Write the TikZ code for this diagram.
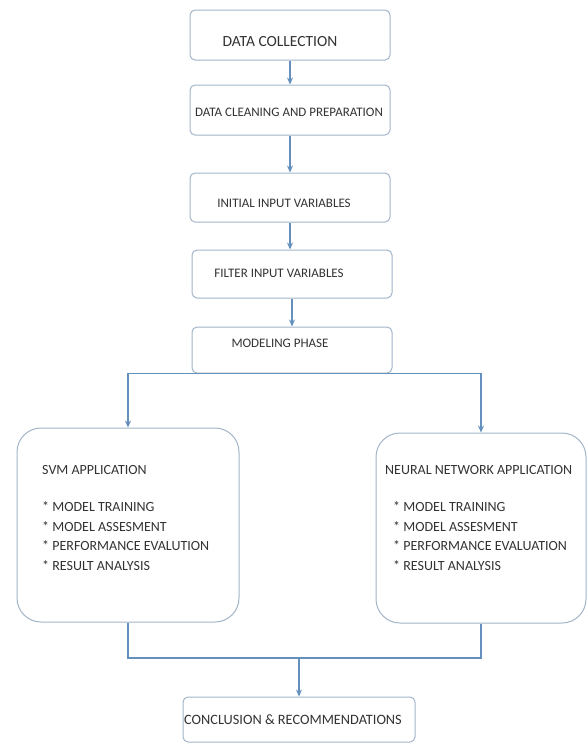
\documentclass[tikz,border=0pt]{standalone}
\usepackage{fontspec}
\setmainfont{Carlito}
\usetikzlibrary{arrows.meta}

\definecolor{boxline}{HTML}{A3B5C9}
\definecolor{flowline}{HTML}{6490BE}
\definecolor{txtgray}{HTML}{333333}

\tikzset{
  stepbox/.style={draw=boxline, line width=1pt, rounded corners=5pt, fill=white},
  appbox/.style={draw=boxline, line width=1pt, rounded corners=24pt, fill=white},
  lbl/.style={text=txtgray, font=\fontsize{14}{16}\selectfont, inner sep=0pt},
  link/.style={draw=flowline, line width=1.6pt},
  flow/.style={link, -{Stealth[length=7pt,width=6pt]}}
}

\begin{document}
\begin{tikzpicture}[x=1pt,y=-1pt]
        \useasboundingbox (0,0) rectangle (587,745);

        % process boxes
        \node[stepbox, minimum width=200pt, minimum height=50pt] (collect) at (290,35) {};
        \node[stepbox, minimum width=200pt, minimum height=50pt] (clean) at (290,110) {};
        \node[stepbox, minimum width=200pt, minimum height=49pt] (initial) at (290,197.5) {};
        \node[stepbox, minimum width=200pt, minimum height=48pt] (filter) at (292,274) {};
        \node[stepbox, minimum width=200pt, minimum height=46pt] (model) at (292,350) {};
        \node[appbox, minimum width=222pt, minimum height=194pt] (svm) at (128,525) {};
        \node[appbox, minimum width=210pt, minimum height=190pt] (nn) at (481,528) {};
        \node[stepbox, minimum width=232pt, minimum height=45pt] (concl) at (299,719.5) {};

        % box texts
        \node[lbl, font=\fontsize{15.5}{18}\selectfont] (collect-txt) at (280,42) {DATA COLLECTION};
        \node[lbl, font=\fontsize{13}{15}\selectfont] (clean-txt) at (289,112) {DATA CLEANING AND PREPARATION};
        \node[lbl, font=\fontsize{13}{15}\selectfont] (initial-txt) at (284,203) {INITIAL INPUT VARIABLES};
        \node[lbl, font=\fontsize{13}{15}\selectfont] (filter-txt) at (279,273) {FILTER INPUT VARIABLES};
        \node[lbl, font=\fontsize{13}{15}\selectfont] (model-txt) at (280,343) {MODELING PHASE};
        \node[lbl, font=\fontsize{14.3}{16}\selectfont] (concl-txt) at (293,720) {CONCLUSION \& RECOMMENDATIONS};

        \node[lbl, anchor=west] (svm-txt) at (42,470) {SVM APPLICATION};
        \foreach \task [count=\i] in {MODEL TRAINING, MODEL ASSESMENT, PERFORMANCE EVALUTION, RESULT ANALYSIS}
            \node[lbl, anchor=west] (svm-\i) at (42,487.5+19.5*\i) {* \task};

        \node[lbl, anchor=west] (nn-txt) at (385,470) {NEURAL NETWORK APPLICATION};
        \foreach \task [count=\i] in {MODEL TRAINING, MODEL ASSESMENT, PERFORMANCE EVALUATION, RESULT ANALYSIS}
            \node[lbl, anchor=west] (nn-\i) at (393,487.5+19.5*\i) {* \task};

        % connectors
        \draw[flow] (collect) -- (clean);
        \draw[flow] (clean) -- (initial);
        \draw[flow] (initial.south) -- (initial.south |- filter.north);
        \draw[flow] (filter) -- (model);
        \draw[flow] (model.south) -| (svm.north);
        \draw[flow] (model.south) -| (nn.north);

        \coordinate (merge) at (299,658);
        \draw[link] (svm.south) |- (merge) -| (nn.south);
        \draw[flow] (merge) -- (concl);
    \end{tikzpicture}
\end{document}
